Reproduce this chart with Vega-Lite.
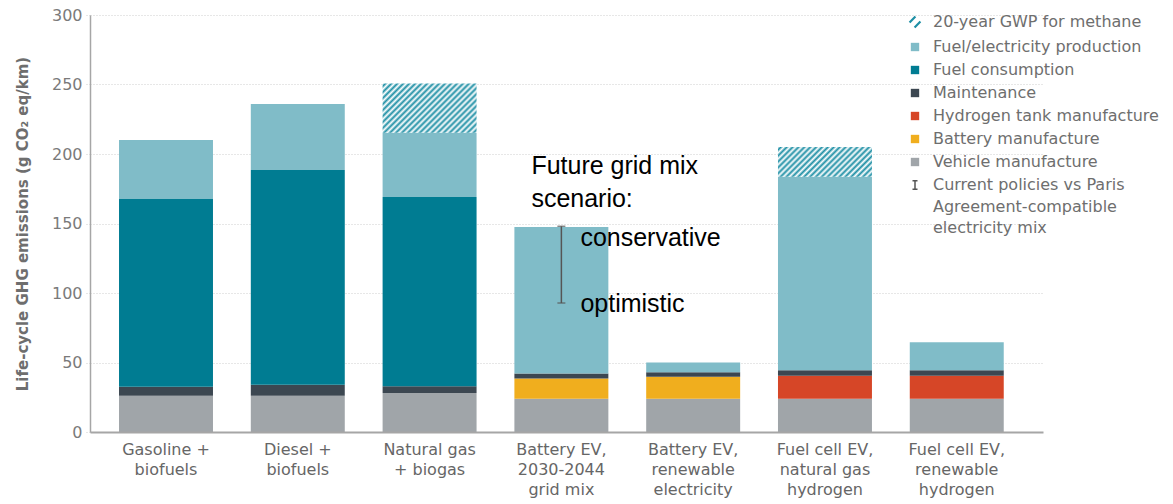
{
  "$schema": "https://vega.github.io/schema/vega-lite/v6.json",
  "width": 953,
  "height": 417,
  "autosize": {"type": "none"},
  "padding": {"left": 90, "top": 15, "right": 130, "bottom": 72},
  "background": "white",
  "datasets": {
    "bars": [
      {"vehicle": "Gasoline + biofuels", "component": "Vehicle manufacture", "k": 1, "value": 26},
      {"vehicle": "Gasoline + biofuels", "component": "Maintenance", "k": 4, "value": 6.5},
      {"vehicle": "Gasoline + biofuels", "component": "Fuel consumption", "k": 5, "value": 135.5},
      {"vehicle": "Gasoline + biofuels", "component": "Fuel/electricity production", "k": 6, "value": 42},
      {"vehicle": "Diesel + biofuels", "component": "Vehicle manufacture", "k": 1, "value": 26},
      {"vehicle": "Diesel + biofuels", "component": "Maintenance", "k": 4, "value": 8},
      {"vehicle": "Diesel + biofuels", "component": "Fuel consumption", "k": 5, "value": 154.5},
      {"vehicle": "Diesel + biofuels", "component": "Fuel/electricity production", "k": 6, "value": 47.5},
      {"vehicle": "Natural gas + biogas", "component": "Vehicle manufacture", "k": 1, "value": 28},
      {"vehicle": "Natural gas + biogas", "component": "Maintenance", "k": 4, "value": 5},
      {"vehicle": "Natural gas + biogas", "component": "Fuel consumption", "k": 5, "value": 136},
      {"vehicle": "Natural gas + biogas", "component": "Fuel/electricity production", "k": 6, "value": 46.3},
      {"vehicle": "Natural gas + biogas", "component": "20-year GWP for methane", "k": 7, "value": 35.5},
      {"vehicle": "Battery EV, 2030-2044 grid mix", "component": "Vehicle manufacture", "k": 1, "value": 24},
      {"vehicle": "Battery EV, 2030-2044 grid mix", "component": "Battery manufacture", "k": 2, "value": 14.5},
      {"vehicle": "Battery EV, 2030-2044 grid mix", "component": "Maintenance", "k": 4, "value": 3.5},
      {"vehicle": "Battery EV, 2030-2044 grid mix", "component": "Fuel/electricity production", "k": 6, "value": 105.5},
      {"vehicle": "Battery EV, renewable electricity", "component": "Vehicle manufacture", "k": 1, "value": 24},
      {"vehicle": "Battery EV, renewable electricity", "component": "Battery manufacture", "k": 2, "value": 15.8},
      {"vehicle": "Battery EV, renewable electricity", "component": "Maintenance", "k": 4, "value": 3.2},
      {"vehicle": "Battery EV, renewable electricity", "component": "Fuel/electricity production", "k": 6, "value": 7},
      {"vehicle": "Fuel cell EV, natural gas hydrogen", "component": "Vehicle manufacture", "k": 1, "value": 24},
      {"vehicle": "Fuel cell EV, natural gas hydrogen", "component": "Hydrogen tank manufacture", "k": 3, "value": 16.5},
      {"vehicle": "Fuel cell EV, natural gas hydrogen", "component": "Maintenance", "k": 4, "value": 4},
      {"vehicle": "Fuel cell EV, natural gas hydrogen", "component": "Fuel/electricity production", "k": 6, "value": 139.2},
      {"vehicle": "Fuel cell EV, natural gas hydrogen", "component": "20-year GWP for methane", "k": 7, "value": 21.3},
      {"vehicle": "Fuel cell EV, renewable hydrogen", "component": "Vehicle manufacture", "k": 1, "value": 24},
      {"vehicle": "Fuel cell EV, renewable hydrogen", "component": "Hydrogen tank manufacture", "k": 3, "value": 16.5},
      {"vehicle": "Fuel cell EV, renewable hydrogen", "component": "Maintenance", "k": 4, "value": 4},
      {"vehicle": "Fuel cell EV, renewable hydrogen", "component": "Fuel/electricity production", "k": 6, "value": 20}
    ],
    "err": [
      {"vehicle": "Battery EV, 2030-2044 grid mix", "low": 92.8, "high": 148}
    ],
    "notesL": [
      {"vehicle": "Battery EV, 2030-2044 grid mix", "y": 185.3, "text": "Future grid mix"},
      {"vehicle": "Battery EV, 2030-2044 grid mix", "y": 162.1, "text": "scenario:"}
    ],
    "notesR": [
      {"vehicle": "Battery EV, 2030-2044 grid mix", "y": 133.8, "text": "conservative"},
      {"vehicle": "Battery EV, 2030-2044 grid mix", "y": 86.5, "text": "optimistic"}
    ]
  },
  "layer": [
    {
      "data": {"name": "bars"},
      "mark": {"type": "bar"},
      "encoding": {
        "x": {
          "field": "vehicle",
          "type": "nominal",
          "title": null,
          "scale": {
            "domain": ["Gasoline + biofuels", "Diesel + biofuels", "Natural gas + biogas", "Battery EV, 2030-2044 grid mix", "Battery EV, renewable electricity", "Fuel cell EV, natural gas hydrogen", "Fuel cell EV, renewable hydrogen"],
            "paddingInner": 0.287,
            "paddingOuter": 0.259,
            "align": 0.425
          },
          "axis": {
            "labelExpr": "datum.label == 'Gasoline + biofuels' ? ['Gasoline +','biofuels'] : datum.label == 'Diesel + biofuels' ? ['Diesel +','biofuels'] : datum.label == 'Natural gas + biogas' ? ['Natural gas','+ biogas'] : datum.label == 'Battery EV, 2030-2044 grid mix' ? ['Battery EV,','2030-2044','grid mix'] : datum.label == 'Battery EV, renewable electricity' ? ['Battery EV,','renewable','electricity'] : datum.label == 'Fuel cell EV, natural gas hydrogen' ? ['Fuel cell EV,','natural gas','hydrogen'] : ['Fuel cell EV,','renewable','hydrogen']",
            "labelAngle": 0,
            "labelFont": "DejaVu Sans",
            "labelFontSize": 16,
            "labelColor": "#666666",
            "labelLineHeight": 20,
            "labelPadding": 9,
            "labelBaseline": "top",
            "labelLimit": 300,
            "ticks": false,
            "domainColor": "#a6a6a6",
            "domainWidth": 2,
            "zindex": 1
          }
        },
        "y": {
          "field": "value",
          "type": "quantitative",
          "stack": "zero",
          "title": "Life-cycle GHG emissions (g CO₂ eq/km)",
          "scale": {"domain": [0, 300], "nice": false},
          "axis": {
            "values": [0, 50, 100, 150, 200, 250, 300],
            "labelFont": "DejaVu Sans",
            "labelFontSize": 16,
            "labelColor": "#7a7a7a",
            "labelPadding": 4,
            "tickSize": 4,
            "tickColor": "#cfcfcf",
            "tickDash": [1, 2],
            "grid": true,
            "gridColor": "#cfcfcf",
            "gridDash": [1, 2],
            "domainColor": "#a6a6a6",
            "domainWidth": 1.5,
            "titleFont": "DejaVu Sans",
            "titleFontSize": 15,
            "titleFontWeight": "bold",
            "titleColor": "#6e6e6e",
            "titlePadding": 21
          }
        },
        "color": {
          "field": "component",
          "type": "nominal",
          "scale": {
            "domain": ["20-year GWP for methane", "Fuel/electricity production", "Fuel consumption", "Maintenance", "Hydrogen tank manufacture", "Battery manufacture", "Vehicle manufacture", "Current policies vs Paris Agreement-compatible electricity mix"],
            "range": ["#1e8fa5", "#80bcc8", "#007c92", "#3c4751", "#d64627", "#f0ae1e", "#a0a5a9", "#555555"]
          },
          "condition": [
            {
              "test": "datum.component === '20-year GWP for methane' && datum.vehicle === 'Natural gas + biogas'",
              "value": {
                "gradient": "linear", "x1": 0, "y1": 0, "x2": 1.1957, "y2": 0.6271,
                "stops": [
                  {"offset": 0, "color": "#ffffff"}, {"offset": 0.02083, "color": "#1e8fa5"}, {"offset": 0.04167, "color": "#ffffff"}, {"offset": 0.0625, "color": "#1e8fa5"},
                  {"offset": 0.08333, "color": "#ffffff"}, {"offset": 0.10417, "color": "#1e8fa5"}, {"offset": 0.125, "color": "#ffffff"}, {"offset": 0.14583, "color": "#1e8fa5"},
                  {"offset": 0.16667, "color": "#ffffff"}, {"offset": 0.1875, "color": "#1e8fa5"}, {"offset": 0.20833, "color": "#ffffff"}, {"offset": 0.22917, "color": "#1e8fa5"},
                  {"offset": 0.25, "color": "#ffffff"}, {"offset": 0.27083, "color": "#1e8fa5"}, {"offset": 0.29167, "color": "#ffffff"}, {"offset": 0.3125, "color": "#1e8fa5"},
                  {"offset": 0.33333, "color": "#ffffff"}, {"offset": 0.35417, "color": "#1e8fa5"}, {"offset": 0.375, "color": "#ffffff"}, {"offset": 0.39583, "color": "#1e8fa5"},
                  {"offset": 0.41667, "color": "#ffffff"}, {"offset": 0.4375, "color": "#1e8fa5"}, {"offset": 0.45833, "color": "#ffffff"}, {"offset": 0.47917, "color": "#1e8fa5"},
                  {"offset": 0.5, "color": "#ffffff"}, {"offset": 0.52083, "color": "#1e8fa5"}, {"offset": 0.54167, "color": "#ffffff"}, {"offset": 0.5625, "color": "#1e8fa5"},
                  {"offset": 0.58333, "color": "#ffffff"}, {"offset": 0.60417, "color": "#1e8fa5"}, {"offset": 0.625, "color": "#ffffff"}, {"offset": 0.64583, "color": "#1e8fa5"},
                  {"offset": 0.66667, "color": "#ffffff"}, {"offset": 0.6875, "color": "#1e8fa5"}, {"offset": 0.70833, "color": "#ffffff"}, {"offset": 0.72917, "color": "#1e8fa5"},
                  {"offset": 0.75, "color": "#ffffff"}, {"offset": 0.77083, "color": "#1e8fa5"}, {"offset": 0.79167, "color": "#ffffff"}, {"offset": 0.8125, "color": "#1e8fa5"},
                  {"offset": 0.83333, "color": "#ffffff"}, {"offset": 0.85417, "color": "#1e8fa5"}, {"offset": 0.875, "color": "#ffffff"}, {"offset": 0.89583, "color": "#1e8fa5"},
                  {"offset": 0.91667, "color": "#ffffff"}, {"offset": 0.9375, "color": "#1e8fa5"}, {"offset": 0.95833, "color": "#ffffff"}, {"offset": 0.97917, "color": "#1e8fa5"},
                  {"offset": 1, "color": "#ffffff"}
                ]
              }
            },
            {
              "test": "datum.component === '20-year GWP for methane' && datum.vehicle === 'Fuel cell EV, natural gas hydrogen'",
              "value": {
                "gradient": "linear", "x1": 0, "y1": 0, "x2": 1.1963, "y2": 0.3767,
                "stops": [
                  {"offset": 0, "color": "#ffffff"}, {"offset": 0.02381, "color": "#1e8fa5"}, {"offset": 0.04762, "color": "#ffffff"}, {"offset": 0.07143, "color": "#1e8fa5"},
                  {"offset": 0.09524, "color": "#ffffff"}, {"offset": 0.11905, "color": "#1e8fa5"}, {"offset": 0.14286, "color": "#ffffff"}, {"offset": 0.16667, "color": "#1e8fa5"},
                  {"offset": 0.19048, "color": "#ffffff"}, {"offset": 0.21429, "color": "#1e8fa5"}, {"offset": 0.2381, "color": "#ffffff"}, {"offset": 0.2619, "color": "#1e8fa5"},
                  {"offset": 0.28571, "color": "#ffffff"}, {"offset": 0.30952, "color": "#1e8fa5"}, {"offset": 0.33333, "color": "#ffffff"}, {"offset": 0.35714, "color": "#1e8fa5"},
                  {"offset": 0.38095, "color": "#ffffff"}, {"offset": 0.40476, "color": "#1e8fa5"}, {"offset": 0.42857, "color": "#ffffff"}, {"offset": 0.45238, "color": "#1e8fa5"},
                  {"offset": 0.47619, "color": "#ffffff"}, {"offset": 0.5, "color": "#1e8fa5"}, {"offset": 0.52381, "color": "#ffffff"}, {"offset": 0.54762, "color": "#1e8fa5"},
                  {"offset": 0.57143, "color": "#ffffff"}, {"offset": 0.59524, "color": "#1e8fa5"}, {"offset": 0.61905, "color": "#ffffff"}, {"offset": 0.64286, "color": "#1e8fa5"},
                  {"offset": 0.66667, "color": "#ffffff"}, {"offset": 0.69048, "color": "#1e8fa5"}, {"offset": 0.71429, "color": "#ffffff"}, {"offset": 0.7381, "color": "#1e8fa5"},
                  {"offset": 0.7619, "color": "#ffffff"}, {"offset": 0.78571, "color": "#1e8fa5"}, {"offset": 0.80952, "color": "#ffffff"}, {"offset": 0.83333, "color": "#1e8fa5"},
                  {"offset": 0.85714, "color": "#ffffff"}, {"offset": 0.88095, "color": "#1e8fa5"}, {"offset": 0.90476, "color": "#ffffff"}, {"offset": 0.92857, "color": "#1e8fa5"},
                  {"offset": 0.95238, "color": "#ffffff"}, {"offset": 0.97619, "color": "#1e8fa5"}, {"offset": 1, "color": "#ffffff"}
                ]
              }
            }
          ],
          "legend": {
            "orient": "none",
            "legendX": 817,
            "legendY": -1,
            "title": null,
            "direction": "vertical",
            "padding": 0,
            "labelFont": "DejaVu Sans",
            "labelFontSize": 16,
            "labelColor": "#6e6e6e",
            "labelLimit": 300,
            "labelOffset": 10,
            "symbolSize": 70,
            "symbolType": "square",
            "rowPadding": 7,
            "labelExpr": "datum.label === 'Current policies vs Paris Agreement-compatible electricity mix' ? ['Current policies vs Paris', 'Agreement-compatible', 'electricity mix'] : datum.label",
            "encode": {
              "symbols": {
                "update": {
                  "shape": {"signal": "datum.value === '20-year GWP for methane' ? 'M-1.3,0.1L0.1,-1.3M-0.1,1.3L1.3,-0.1' : datum.value === 'Current policies vs Paris Agreement-compatible electricity mix' ? 'M-0.6,-1L0.6,-1M0,-1L0,1M-0.6,1L0.6,1' : 'square'"},
                  "stroke": {"signal": "datum.value === '20-year GWP for methane' ? '#1e8fa5' : datum.value === 'Current policies vs Paris Agreement-compatible electricity mix' ? '#555555' : 'transparent'"},
                  "strokeWidth": {"signal": "datum.value === '20-year GWP for methane' ? 2.2 : 1.5"}
                }
              },
              "labels": {
                "update": {"lineHeight": {"value": 21.7}}
              }
            }
          }
        },
        "order": {"field": "k", "type": "quantitative"}
      }
    },
    {
      "data": {"name": "err"},
      "mark": {"type": "errorbar", "ticks": true, "size": 8, "thickness": 1.5, "color": "#555555"},
      "encoding": {
        "x": {"field": "vehicle", "type": "nominal", "title": null},
        "y": {"field": "low", "type": "quantitative", "title": "Life-cycle GHG emissions (g CO₂ eq/km)"},
        "y2": {"field": "high"}
      }
    },
    {
      "data": {"name": "notesL"},
      "mark": {"type": "text", "align": "left", "baseline": "alphabetic", "dx": -30, "font": "Liberation Sans", "fontSize": 25, "color": "#000000"},
      "encoding": {
        "x": {"field": "vehicle", "type": "nominal", "title": null},
        "y": {"field": "y", "type": "quantitative", "title": "Life-cycle GHG emissions (g CO₂ eq/km)"},
        "text": {"field": "text"}
      }
    },
    {
      "data": {"name": "notesR"},
      "mark": {"type": "text", "align": "left", "baseline": "alphabetic", "dx": 19, "font": "Liberation Sans", "fontSize": 25, "color": "#000000"},
      "encoding": {
        "x": {"field": "vehicle", "type": "nominal", "title": null},
        "y": {"field": "y", "type": "quantitative", "title": "Life-cycle GHG emissions (g CO₂ eq/km)"},
        "text": {"field": "text"}
      }
    }
  ],
  "config": {
    "view": {"stroke": null},
    "font": "DejaVu Sans"
  }
}
